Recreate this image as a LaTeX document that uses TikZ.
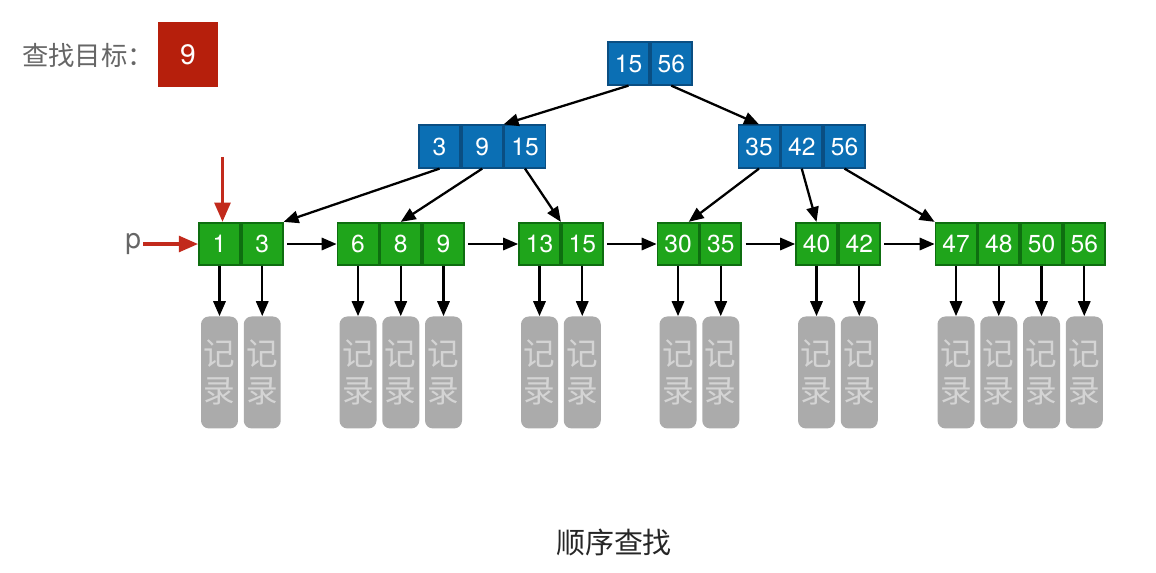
\documentclass[tikz,border=0pt]{standalone}
\usepackage{fontspec}
\setmainfont{TeX Gyre Heros}
\newfontfamily\cjk{Noto Sans CJK SC}
\usepackage{tikz}
\usetikzlibrary{positioning,arrows.meta,calc}
\definecolor{bnode}{HTML}{0B6FB4}
\definecolor{bline}{HTML}{0A4E82}
\definecolor{gnode}{HTML}{1FA51B}
\definecolor{gline}{HTML}{0E6E10}
\definecolor{recfill}{HTML}{ABABAB}
\definecolor{rectext}{HTML}{D4D4D4}
\definecolor{hitbox}{HTML}{B61F0C}
\definecolor{ptr}{HTML}{C22A1C}
\definecolor{greytext}{HTML}{666666}

\begin{document}
\begin{tikzpicture}[x=0.02cm,y=-0.02cm,
  keycell/.style={draw, line width=1pt, minimum width=0.82cm, minimum height=0.85cm,
    inner sep=0pt, text=white, font=\fontsize{14}{16}\selectfont},
  inode/.style={keycell, fill=bnode, draw=bline},
  leafcell/.style={keycell, fill=gnode, draw=gline},
  record/.style={fill=recfill, rounded corners=4.5pt, minimum width=0.74cm,
    minimum height=2.24cm, inner sep=0pt, align=center, text=rectext,
    font=\cjk\fontsize{18}{21.5}\selectfont},
  link/.style={-{Triangle[length=8.5pt,width=7pt]}, line width=1.3pt},
  redlink/.style={-{Triangle[length=11pt,width=9pt]}, line width=2pt, draw=ptr}]
 \useasboundingbox (0,0) rectangle (1156,572);

 \node[anchor=west, text=greytext, font=\cjk\fontsize{15}{18}\selectfont] (goal) at (16,55) {查找目标：};
 \node[fill=hitbox, minimum width=1.2cm, minimum height=1.3cm, text=white,
   font=\fontsize{16}{18}\selectfont] (key) at (188,54.5) {9};

 % root
 \node[inode] (T0) at (628.5,63.5) {15};
 \node[inode, right=0pt of T0] (T1) {56};

 % second level
 \node[inode] (I0) at (439.5,146.5) {3};
 \node[inode, right=0pt of I0] (I1) {9};
 \node[inode, right=0pt of I1] (I2) {15};
 \node[inode] (I3) at (759,146.5) {35};
 \node[inode, right=0pt of I3] (I4) {42};
 \node[inode, right=0pt of I4] (I5) {56};

 % leaves
 \node[leafcell] (L0) at (219.5,244) {1};
 \node[leafcell, right=0pt of L0] (L1) {3};
 \node[leafcell] (L2) at (358,244) {6};
 \node[leafcell, right=0pt of L2] (L3) {8};
 \node[leafcell, right=0pt of L3] (L4) {9};
 \node[leafcell] (L5) at (539.5,244) {13};
 \node[leafcell, right=0pt of L5] (L6) {15};
 \node[leafcell] (L7) at (678,244) {30};
 \node[leafcell, right=0pt of L7] (L8) {35};
 \node[leafcell] (L9) at (816.5,244) {40};
 \node[leafcell, right=0pt of L9] (L10) {42};
 \node[leafcell] (L11) at (956,244) {47};
 \node[leafcell, right=0pt of L11] (L12) {48};
 \node[leafcell, right=0pt of L12] (L13) {50};
 \node[leafcell, right=0pt of L13] (L14) {56};

 % records
 \foreach \i in {0,...,14} {
   \node[record, below=1cm of L\i] (D\i) {记\\录};
   \path[link] (L\i) edge (D\i);
 }

 \path[link] (T0.south) edge (I1.north east) (T1.south) edge (I3.north);
 \path[link] (I0.south) edge (L1.north east) (I1.south) edge (L3.north)
   (I2.south) edge (L5.north east);
 \path[link] (I3.south) edge ($(L7.north)!0.5!(L7.north east)$)
   (I4.south) edge (L9.north) (I5.south) edge (L11.north west);
 \path[link, shorten <=2pt] (L1) edge (L2) (L4) edge (L5) (L6) edge (L7)
   (L8) edge (L9) (L10) edge (L11);

 % pointer
 \node[left=1.1cm of L0, inner sep=1pt, text=greytext, font=\fontsize{16}{18}\selectfont] (p) {p};
 \draw[redlink] (p) -- (L0);
 \coordinate[above=1.3cm of L0.north] (hit);
 \draw[redlink] ($(hit)+(3,0)$) -- ($(L0.north)+(3,0)$);

 \node[font=\cjk\fontsize{16.5}{20}\selectfont, text=black!85] (cap) at (614,542) {顺序查找};
\end{tikzpicture}
\end{document}
